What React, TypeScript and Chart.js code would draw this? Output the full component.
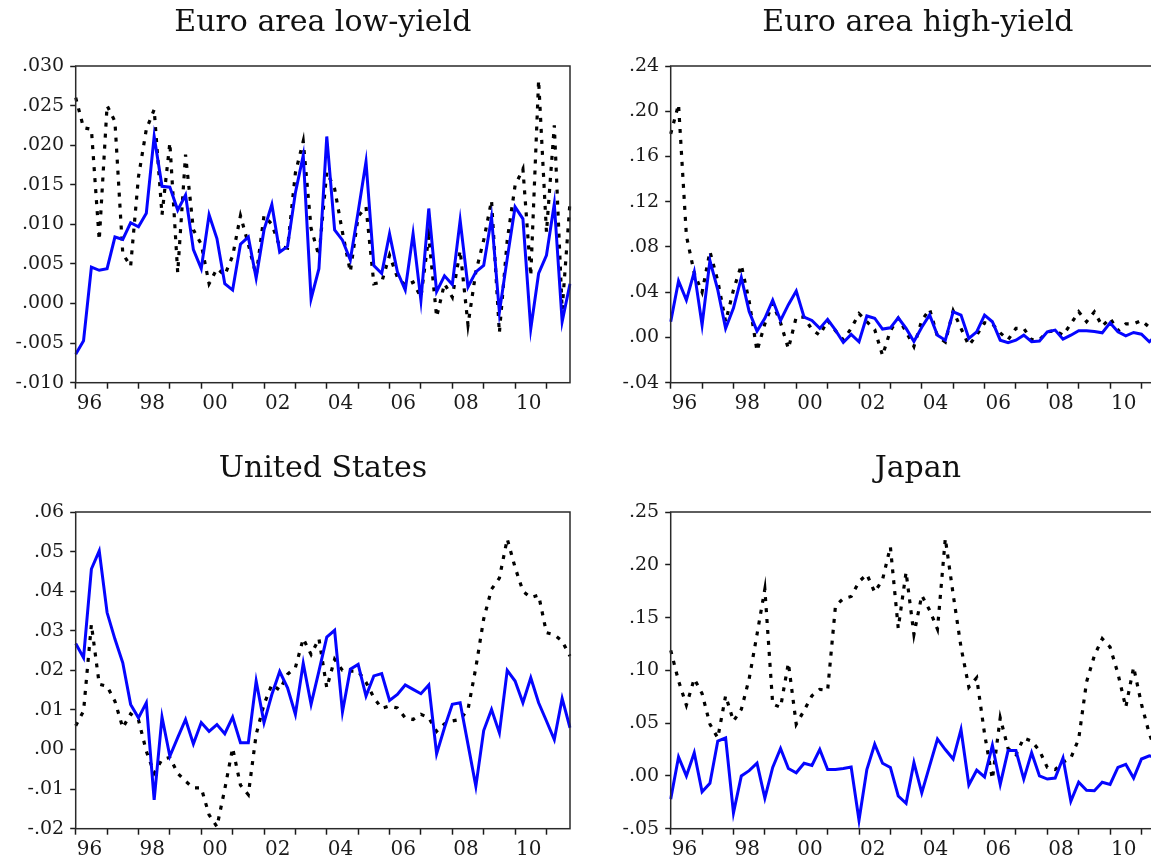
import React, { useEffect, useRef } from "react";
import { Chart, registerables } from "chart.js";

Chart.register(...registerables);

const START_YEAR = 1996;
const END_YEAR = 2011;
const QUARTERS: string[] = [];
for (let y = START_YEAR; y <= END_YEAR; y++) {
  for (let q = 1; q <= 4; q++) QUARTERS.push(`${y}Q${q}`);
}

// Euro area low-yield
const LOW_SOLID = [
  -0.0064, -0.0047, 0.0046, 0.0042, 0.0044, 0.0084, 0.0081, 0.0102,
  0.0097, 0.0114, 0.0211, 0.0148, 0.0147, 0.0118, 0.0137, 0.0068,
  0.0044, 0.0112, 0.0082, 0.0025, 0.0017, 0.0075, 0.0084, 0.0032,
  0.0093, 0.0125, 0.0065, 0.0072, 0.014, 0.0187, 0.0006, 0.0044,
  0.0211, 0.0093, 0.008, 0.0055, 0.0116, 0.0179, 0.0048, 0.0038,
  0.0088, 0.004, 0.0017, 0.0088, 0.0004, 0.012, 0.0015, 0.0035,
  0.0024, 0.0105, 0.0021, 0.004, 0.0048, 0.0109, -0.0011, 0.0057,
  0.0122, 0.0107, -0.0032, 0.0038, 0.0061, 0.0126, -0.0023, 0.0025,
];
const LOW_DOTTED = [
  0.026, 0.0222, 0.022, 0.008, 0.025, 0.023, 0.0063, 0.0047,
  0.016, 0.022, 0.0245, 0.0112, 0.0203, 0.0039, 0.0188, 0.0093,
  0.0075, 0.0025, 0.0044, 0.0036, 0.006, 0.0111, 0.0075, 0.0035,
  0.0111, 0.01, 0.0072, 0.007, 0.0165, 0.0205, 0.0095, 0.006,
  0.0166, 0.0145, 0.009, 0.004, 0.011, 0.0122, 0.0025, 0.0027,
  0.0061, 0.0033, 0.0023, 0.0027, 0.0008, 0.0085, -0.0017, 0.0025,
  0.0008, 0.0067, -0.0027, 0.004, 0.008, 0.013, -0.0037, 0.008,
  0.0149, 0.017, 0.0035, 0.0282, 0.009, 0.0225, -0.0008, 0.0128,
];

// Euro area high-yield
const HIGH_SOLID = [
  0.0139, 0.05, 0.033, 0.058, 0.011, 0.068, 0.042, 0.008,
  0.026, 0.053, 0.023, 0.0056, 0.017, 0.033, 0.015, 0.029,
  0.041, 0.018, 0.015, 0.008, 0.016, 0.0065, -0.0044, 0.0027,
  -0.0038, 0.019, 0.017, 0.0074, 0.0085, 0.0174, 0.008, -0.0035,
  0.009, 0.02, 0.002, -0.0024, 0.0227, 0.0198, -0.0009, 0.005,
  0.0198, 0.0139, -0.0024, -0.0047, -0.0024, 0.002, -0.0038, -0.0032,
  0.005, 0.0065, -0.0015, 0.002, 0.0059, 0.0059, 0.0053, 0.0041,
  0.013, 0.005, 0.0015, 0.0044, 0.0029, -0.0038, 0.002, -0.002,
];
const HIGH_DOTTED = [
  0.18, 0.206, 0.09, 0.057, 0.04, 0.076, 0.05, 0.014,
  0.042, 0.064, 0.032, -0.012, 0.012, 0.03, 0.013, -0.01,
  0.018, 0.018, 0.007, 0.002, 0.015, 0.006, -0.002, 0.008,
  0.021, 0.014, 0.007, -0.016, 0.006, 0.017, 0.005, -0.008,
  0.015, 0.025, 0.001, -0.004, 0.0236, 0.008, -0.007, 0.002,
  0.013, 0.012, 0.004, -0.002, 0.008, 0.008, -0.002, -0.002,
  0.005, 0.006, 0.002, 0.012, 0.0227, 0.0139, 0.0227, 0.01,
  0.017, 0.006, 0.012, 0.012, 0.015, 0.009, 0.012, 0.01,
];

// United States
const US_SOLID = [
  0.0268, 0.0232, 0.0456, 0.0502, 0.0346, 0.0279, 0.0219, 0.0114,
  0.008, 0.0118, -0.0127, 0.0082, -0.0017, 0.003, 0.0076, 0.0014,
  0.0068, 0.0046, 0.0063, 0.004, 0.0082, 0.0017, 0.0017, 0.0173,
  0.0068, 0.0139, 0.0197, 0.0156, 0.0089, 0.0218, 0.0114, 0.0198,
  0.0284, 0.0301, 0.0095, 0.0203, 0.0215, 0.0135, 0.0186, 0.0192,
  0.0124, 0.0139, 0.0163, 0.0152, 0.0141, 0.0163, -0.0011, 0.0055,
  0.0114, 0.0118, 0.0013, -0.0093, 0.0048, 0.0101, 0.0042, 0.02,
  0.0173, 0.0118, 0.0181, 0.0118, 0.0072, 0.0025, 0.0129, 0.0055,
];
const US_DOTTED = [
  0.006, 0.0097, 0.0316, 0.0165, 0.016, 0.0122, 0.0055, 0.009,
  0.0075, -0.0004, -0.006, -0.0025, -0.002, -0.006, -0.008, -0.0097,
  -0.0097, -0.0165, -0.0195, -0.01, 0.0004, -0.009, -0.0114, 0.0038,
  0.0114, 0.0164, 0.015, 0.019, 0.0207, 0.028, 0.024, 0.028,
  0.0156, 0.0228, 0.02, 0.0198, 0.0198, 0.017, 0.0131, 0.0104,
  0.011, 0.0105, 0.008, 0.0076, 0.0089, 0.008, 0.0046, 0.0065,
  0.0072, 0.0076, 0.0101, 0.0207, 0.033, 0.0405, 0.0433, 0.0532,
  0.046, 0.04, 0.0384, 0.039, 0.0295, 0.029, 0.0274, 0.0236,
];

// Japan
const JP_SOLID = [
  -0.022, 0.018, 0.0, 0.022, -0.015, -0.007, 0.033, 0.036,
  -0.035, 0.0, 0.005, 0.012, -0.021, 0.008, 0.026, 0.007,
  0.003, 0.012, 0.01, 0.025, 0.006, 0.006, 0.007, 0.0085,
  -0.042, 0.006, 0.03, 0.012, 0.008, -0.019, -0.026, 0.0127,
  -0.016, 0.0095, 0.035, 0.025, 0.016, 0.044, -0.0085, 0.0054,
  -0.001, 0.029, -0.008, 0.024, 0.024, -0.003, 0.022, 0.0,
  -0.003, -0.002, 0.017, -0.024, -0.006, -0.0136, -0.014, -0.006,
  -0.008, 0.008, 0.011, -0.002, 0.016, 0.019, 0.017, 0.01,
];
const JP_DOTTED = [
  0.119, 0.09, 0.067, 0.092, 0.078, 0.049, 0.036, 0.076,
  0.052, 0.063, 0.092, 0.134, 0.177, 0.068, 0.065, 0.107,
  0.049, 0.062, 0.076, 0.082, 0.081, 0.161, 0.168, 0.17,
  0.184, 0.191, 0.174, 0.186, 0.217, 0.14, 0.193, 0.134,
  0.171, 0.157, 0.139, 0.225, 0.172, 0.122, 0.084, 0.093,
  0.04, -0.003, 0.055, 0.026, 0.02, 0.036, 0.033, 0.024,
  0.008, 0.006, 0.013, 0.017, 0.035, 0.089, 0.114, 0.13,
  0.122, 0.097, 0.065, 0.103, 0.068, 0.04, 0.02, 0.045,
];

const LOW_TICKS = [-0.01, -0.005, 0, 0.005, 0.01, 0.015, 0.02, 0.025, 0.03];
const HIGH_TICKS = [-0.04, 0, 0.04, 0.08, 0.12, 0.16, 0.2, 0.24];
const US_TICKS = [-0.02, -0.01, 0, 0.01, 0.02, 0.03, 0.04, 0.05, 0.06];
const JP_TICKS = [-0.05, 0, 0.05, 0.1, 0.15, 0.2, 0.25];

const SERIF = '"DejaVu Serif", serif';
const INK = "#1a1a1a";

function fmt(v: number, d: number): string {
  const s = Math.abs(v).toFixed(d).replace(/^0/, "");
  return v < -1e-9 ? "-" + s : s;
}

const framePlugin = {
  id: "frame",
  afterDatasetsDraw(chart: any) {
    const { ctx, chartArea } = chart;
    ctx.save();
    ctx.strokeStyle = "#2a2a2a";
    ctx.lineWidth = 1.5;
    ctx.strokeRect(chartArea.left, chartArea.top, chartArea.right - chartArea.left, chartArea.bottom - chartArea.top);
    ctx.restore();
  },
};

const CW = 590;
const CH = 430;

function Panel(props: {
  title: string;
  solid: number[];
  dotted: number[];
  ticks: number[];
  decimals: number;
  left: number;
  top: number;
}) {
  const ref = useRef<HTMLCanvasElement>(null);
  useEffect(() => {
    const { title, solid, dotted, ticks, decimals } = props;
    const chart = new Chart(ref.current as HTMLCanvasElement, {
      type: "line",
      data: {
        labels: QUARTERS,
        datasets: [
          {
            data: solid,
            borderColor: "#0505ff",
            borderWidth: 3,
            pointRadius: 0,
            tension: 0,
            fill: false,
          },
          {
            data: dotted,
            borderColor: "#000000",
            borderWidth: 3.2,
            borderDash: [4, 7],
            borderCapStyle: "butt",
            pointRadius: 0,
            tension: 0,
            fill: false,
          },
        ],
      },
      options: {
        responsive: false,
        animation: false,
        devicePixelRatio: 1,
        events: [],
        layout: { padding: { left: 15.7, right: 20, top: 0, bottom: 7.3 } },
        plugins: {
          legend: { display: false },
          tooltip: { enabled: false },
          title: {
            display: true,
            text: title,
            fullSize: false,
            color: "#111",
            font: { family: SERIF, size: 30, weight: "normal" },
            padding: { top: 5, bottom: 25 },
          },
        },
        scales: {
          x: {
            type: "category",
            offset: false,
            border: { display: false },
            grid: {
              drawOnChartArea: false,
              drawTicks: true,
              tickLength: 6,
              tickColor: INK,
              tickWidth: 1.5,
            },
            afterBuildTicks: (s: any) => {
              s.ticks = s.ticks.filter((t: any) => QUARTERS[t.value].endsWith("Q1"));
            },
            afterFit: (s: any) => {
              s.height = 40;
            },
            ticks: {
              autoSkip: false,
              maxRotation: 0,
              minRotation: 0,
              align: "start",
              labelOffset: 1,
              padding: 3,
              color: INK,
              font: { family: SERIF, size: 20 },
              callback: (v: any) => {
                const yr = parseInt(QUARTERS[v].slice(0, 4), 10);
                return yr % 2 === 0 ? String(yr).slice(2) : "";
              },
            },
          },
          y: {
            type: "linear",
            min: ticks[0],
            max: ticks[ticks.length - 1],
            border: { display: false },
            grid: {
              drawOnChartArea: false,
              drawTicks: true,
              tickLength: 5.5,
              tickColor: INK,
              tickWidth: 1.5,
            },
            afterBuildTicks: (s: any) => {
              s.ticks = ticks.map((v) => ({ value: v }));
            },
            afterFit: (s: any) => {
              s.width = 60;
            },
            ticks: {
              padding: 6,
              color: INK,
              font: { family: SERIF, size: 19 },
              callback: (v: any) => fmt(Number(v), decimals),
            },
          },
        },
      } as any,
      plugins: [framePlugin],
    });
    return () => chart.destroy();
  }, []);
  return (
    <canvas
      ref={ref}
      width={CW}
      height={CH}
      style={{ position: "absolute", left: props.left, top: props.top, width: CW, height: CH }}
    />
  );
}

export default function App() {
  return (
    <div
      style={{
        position: "absolute",
        left: 0,
        top: 0,
        width: 1151,
        height: 856,
        overflow: "hidden",
        background: "#fff",
      }}
    >
      <Panel title="Euro area low-yield" solid={LOW_SOLID} dotted={LOW_DOTTED} ticks={LOW_TICKS} decimals={3} left={0} top={0} />
      <Panel title="Euro area high-yield" solid={HIGH_SOLID} dotted={HIGH_DOTTED} ticks={HIGH_TICKS} decimals={2} left={595.3} top={0} />
      <Panel title="United States" solid={US_SOLID} dotted={US_DOTTED} ticks={US_TICKS} decimals={2} left={0} top={446} />
      <Panel title="Japan" solid={JP_SOLID} dotted={JP_DOTTED} ticks={JP_TICKS} decimals={2} left={595.3} top={446} />
    </div>
  );
}
